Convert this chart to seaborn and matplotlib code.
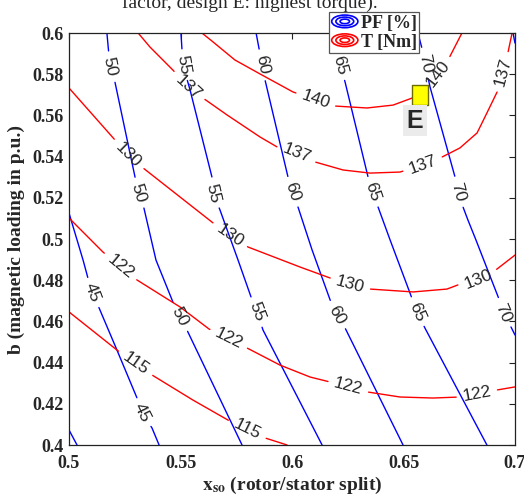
import numpy as np
import matplotlib
matplotlib.use("Agg")
import matplotlib.pyplot as plt
import seaborn as sns
from matplotlib.lines import Line2D
from matplotlib.patches import Ellipse
from matplotlib.legend_handler import HandlerBase

# axis ticks
x_ticks = [0.5, 0.55, 0.6, 0.65, 0.7]
x_tick_labels = ["0.5", "0.55", "0.6", "0.65", "0.7"]
y_ticks = [0.4, 0.42, 0.44, 0.46, 0.48, 0.5, 0.52, 0.54, 0.56, 0.58, 0.6]
y_tick_labels = ["0.4", "0.42", "0.44", "0.46", "0.48", "0.5", "0.52", "0.54", "0.56", "0.58", "0.6"]

# power factor contours [%]  (x = rotor/stator split, y = magnetic loading)
pf40_x = [0.5, 0.5036]
pf40_y = [0.4073, 0.4]
pf40_lab_x, pf40_lab_y = [], []

pf45_x = [0.5, 0.5063, 0.5103, 0.5135, 0.5215, 0.5305, 0.5327, 0.5372, 0.5404]
pf45_y = [0.5126, 0.4898, 0.4738, 0.4665, 0.4461, 0.4228, 0.4155, 0.4083, 0.4]
pf45_lab_x, pf45_lab_y = [0.5103, 0.5327], [0.4738, 0.4155]

pf50_x = [0.517, 0.5184, 0.5206, 0.5296, 0.5309, 0.5336, 0.539, 0.5466, 0.5498, 0.5529, 0.5776]
pf50_y = [0.6, 0.5835, 0.5762, 0.5301, 0.5223, 0.515, 0.4898, 0.4694, 0.4621, 0.4558, 0.4]
pf50_lab_x, pf50_lab_y = [0.5184, 0.5309, 0.5498], [0.5835, 0.5223, 0.4621]

pf55_x = [0.5502, 0.5511, 0.5543, 0.5641, 0.5646, 0.5677, 0.5758, 0.5821, 0.5843, 0.587, 0.6135]
pf55_y = [0.6, 0.5845, 0.5723, 0.5301, 0.5223, 0.5141, 0.4898, 0.4704, 0.4646, 0.4558, 0.4]
pf55_lab_x, pf55_lab_y = [0.5511, 0.5646, 0.5843], [0.5845, 0.5223, 0.4646]

pf60_x = [0.5839, 0.5866, 0.5879, 0.5982, 0.6, 0.6027, 0.609, 0.6179, 0.6202, 0.6238, 0.6498]
pf60_y = [0.6, 0.5845, 0.5772, 0.5301, 0.5228, 0.5155, 0.4947, 0.468, 0.4631, 0.4568, 0.4]
pf60_lab_x, pf60_lab_y = [0.5866, 0.6, 0.6202], [0.5845, 0.5228, 0.4631]

pf65_x = [0.6184, 0.6215, 0.6238, 0.6341, 0.6359, 0.6386, 0.644, 0.6529, 0.656, 0.6596, 0.6874]
pf65_y = [0.6, 0.5845, 0.5762, 0.5301, 0.5228, 0.5155, 0.4995, 0.4738, 0.4646, 0.4568, 0.4]
pf65_lab_x, pf65_lab_y = [0.6215, 0.6359, 0.656], [0.5845, 0.5228, 0.4646]

pf70_x = [0.6565, 0.6587, 0.6596, 0.6619, 0.6731, 0.6744, 0.6767, 0.6789, 0.6825, 0.6928, 0.6946, 0.6982, 0.7]
pf70_y = [0.6, 0.5908, 0.5854, 0.5738, 0.5301, 0.5228, 0.5155, 0.5092, 0.4995, 0.4709, 0.4641, 0.4573, 0.4534]
pf70_lab_x, pf70_lab_y = [0.6596, 0.6744, 0.6946], [0.5854, 0.5228, 0.4641]

pf75_x = [0.6991, 0.7]
pf75_y = [0.6, 0.5951]
pf75_lab_x, pf75_lab_y = [], []

# torque contours [Nm]
t115_x = [0.5, 0.5215, 0.5372, 0.5556, 0.5713, 0.5865, 0.5978]
t115_y = [0.4646, 0.4461, 0.434, 0.4218, 0.4121, 0.4039, 0.4]
t115_lab_x, t115_lab_y = [0.5287, 0.5798], [0.4379, 0.4073]

t122_x = [0.5, 0.5152, 0.5305, 0.5498, 0.5628, 0.5798, 0.5946, 0.6081, 0.617, 0.6341, 0.6484, 0.6632, 0.6753, 0.6919, 0.7]
t122_y = [0.5102, 0.4937, 0.4801, 0.467, 0.4563, 0.4471, 0.4388, 0.433, 0.4306, 0.4257, 0.4233, 0.4228, 0.4233, 0.4267, 0.4282]
t122_lab_x, t122_lab_y = [0.5229, 0.5709, 0.6251, 0.683], [0.4864, 0.45, 0.4277, 0.4243]

t130_x = [0.5, 0.5206, 0.5265, 0.5332, 0.5646, 0.5722, 0.5803, 0.6036, 0.617, 0.626, 0.635, 0.6543, 0.6695, 0.6744, 0.6834, 0.6919, 0.7]
t130_y = [0.5733, 0.5481, 0.5408, 0.5345, 0.5078, 0.5019, 0.4961, 0.4864, 0.4811, 0.4777, 0.4757, 0.4743, 0.4757, 0.4777, 0.4806, 0.4854, 0.4922]
t130_lab_x, t130_lab_y = [0.5265, 0.5722, 0.626, 0.6834], [0.5408, 0.5019, 0.4777, 0.4806]

t137_x = [0.531, 0.5363, 0.5466, 0.5534, 0.5601, 0.5709, 0.5857, 0.5933, 0.6022, 0.6103, 0.6229, 0.635, 0.6484, 0.6587, 0.6673, 0.6753, 0.683, 0.6861, 0.6924, 0.6946, 0.6969, 0.6987]
t137_y = [0.6, 0.5932, 0.582, 0.5738, 0.5684, 0.5602, 0.5495, 0.5447, 0.5417, 0.5374, 0.5335, 0.532, 0.5325, 0.5359, 0.5398, 0.5442, 0.5515, 0.5583, 0.5723, 0.5811, 0.5908, 0.6]
t137_lab_x, t137_lab_y = [0.5534, 0.6022, 0.6587, 0.6946], [0.5738, 0.5417, 0.5359, 0.5811]

t140_x = [0.5596, 0.5641, 0.5744, 0.5857, 0.6004, 0.6184, 0.6336, 0.6453, 0.6538, 0.661, 0.67, 0.6762]
t140_y = [0.6, 0.5961, 0.5869, 0.5801, 0.5714, 0.5646, 0.5636, 0.565, 0.5684, 0.5743, 0.5869, 0.6]
t140_lab_x, t140_lab_y = [0.6103, 0.665], [0.5665, 0.5806]

# design E (highest torque)
design_x = [0.6574]
design_y = [0.5699]
design_name = "E"

pf_levels = [
    ("40", pf40_x, pf40_y, pf40_lab_x, pf40_lab_y),
    ("45", pf45_x, pf45_y, pf45_lab_x, pf45_lab_y),
    ("50", pf50_x, pf50_y, pf50_lab_x, pf50_lab_y),
    ("55", pf55_x, pf55_y, pf55_lab_x, pf55_lab_y),
    ("60", pf60_x, pf60_y, pf60_lab_x, pf60_lab_y),
    ("65", pf65_x, pf65_y, pf65_lab_x, pf65_lab_y),
    ("70", pf70_x, pf70_y, pf70_lab_x, pf70_lab_y),
    ("75", pf75_x, pf75_y, pf75_lab_x, pf75_lab_y),
]
t_levels = [
    ("115", t115_x, t115_y, t115_lab_x, t115_lab_y),
    ("122", t122_x, t122_y, t122_lab_x, t122_lab_y),
    ("130", t130_x, t130_y, t130_lab_x, t130_lab_y),
    ("137", t137_x, t137_y, t137_lab_x, t137_lab_y),
    ("140", t140_x, t140_y, t140_lab_x, t140_lab_y),
]

sns.set_style("white")
plt.rcParams["font.family"] = ["Liberation Serif", "DejaVu Serif"]
plt.rcParams["font.weight"] = "bold"
plt.rcParams["mathtext.fontset"] = "stix"

fig = plt.figure(figsize=(5.24, 4.95), dpi=100)
ax = fig.add_axes([69 / 524, 1 - 445 / 495, 446 / 524, 412 / 495])
ax.set_xlim(0.5, 0.7)
ax.set_ylim(0.4, 0.6)

LABEL_FS = 12.5
digit_px = 0.556 * LABEL_FS * fig.dpi / 72


def point_at(pts, s, dist):
    i = int(np.clip(np.searchsorted(s, dist, side="right") - 1, 0, len(pts) - 2))
    t = (dist - s[i]) / (s[i + 1] - s[i])
    return pts[i] + t * (pts[i + 1] - pts[i])


def draw_level(text, xs, ys, lab_x, lab_y, color):
    pts = ax.transData.transform(np.column_stack([xs, ys]))
    seglen = np.hypot(*np.diff(pts, axis=0).T)
    s = np.concatenate([[0], np.cumsum(seglen)])
    gap = len(text) * digit_px + 13
    inv = ax.transData.inverted()
    cuts = []
    for lx, ly in zip(lab_x, lab_y):
        p = ax.transData.transform((lx, ly))
        best_d, best_s = np.inf, 0.0
        for i in range(len(pts) - 1):
            d = pts[i + 1] - pts[i]
            t = np.clip(np.dot(p - pts[i], d) / np.dot(d, d), 0, 1)
            dd = np.hypot(*(p - (pts[i] + t * d)))
            if dd < best_d:
                best_d, best_s = dd, s[i] + t * seglen[i]
        a = point_at(pts, s, best_s - 6)
        b = point_at(pts, s, best_s + 6)
        ang = np.degrees(np.arctan2(b[1] - a[1], b[0] - a[0]))
        if ang > 90:
            ang -= 180
        elif ang < -90:
            ang += 180
        c = inv.transform(point_at(pts, s, best_s))
        ax.text(c[0], c[1], text, rotation=ang, rotation_mode="anchor",
                ha="center", va="center", fontsize=LABEL_FS,
                family="Liberation Sans", weight="normal", zorder=4)
        cuts.append((best_s - gap / 2, best_s + gap / 2))

    # keep the line everywhere except under its labels
    cuts.sort()
    keep, start = [], 0.0
    for a, b in cuts:
        if a > start:
            keep.append((start, a))
        start = max(start, b)
    if start < s[-1]:
        keep.append((start, s[-1]))
    for a, b in keep:
        inner = [pts[k] for k in range(len(pts)) if a < s[k] < b]
        piece = np.array([point_at(pts, s, a)] + inner + [point_at(pts, s, b)])
        piece = inv.transform(piece)
        sns.lineplot(x=piece[:, 0], y=piece[:, 1], sort=False, estimator=None,
                     color=color, lw=1.0, ax=ax, legend=False)


for text, xs, ys, lx, ly in pf_levels:
    draw_level(text, xs, ys, lx, ly, "#0000ff")
for text, xs, ys, lx, ly in t_levels:
    draw_level(text, xs, ys, lx, ly, "#ff0000")

# design marker (tall yellow square, as drawn by MATLAB)
rect = [(-0.375, -0.5), (0.375, -0.5), (0.375, 0.5), (-0.375, 0.5), (-0.375, -0.5)]
ax.plot(design_x, design_y, linestyle="none", marker=rect, markersize=14.5,
        markerfacecolor="#ffff00", markeredgecolor="#6b6b00", markeredgewidth=1.0, zorder=6)
ax.annotate(design_name, (design_x[0], design_y[0]), xytext=(-3.5, -18.5), textcoords="offset points",
            ha="center", va="center", fontsize=18, family="Liberation Sans", weight="bold",
            bbox=dict(boxstyle="square,pad=0.15", facecolor="#ebebeb", edgecolor="none"), zorder=6)

ax.set_xticks(x_ticks)
ax.set_xticklabels(x_tick_labels)
ax.set_yticks(y_ticks)
ax.set_yticklabels(y_tick_labels)
ax.tick_params(axis="both", direction="in", top=True, right=True, length=4, width=0.8,
               labelsize=13, color="#222222")
ax.tick_params(axis="x", pad=7)
ax.tick_params(axis="y", pad=4)
for sp in ax.spines.values():
    sp.set_color("#222222")
    sp.set_linewidth(0.9)

ax.set_xlabel(r"$\mathbf{x}_{\mathbf{so}}$ (rotor/stator split)", fontsize=14, fontweight="bold", labelpad=2)
ax.set_ylabel("b (magnetic loading in p.u.)", fontsize=14, fontweight="bold", labelpad=5)

fig.text(250 / 524, 1 - 8 / 495, "factor, design E: highest torque).", ha="center", va="baseline",
         fontsize=14, fontweight="normal", family="Liberation Serif")


class HandlerRings(HandlerBase):
    def create_artists(self, legend, orig_handle, xdescent, ydescent, width, height, fontsize, trans):
        cx = width / 2 - xdescent
        cy = height / 2 - ydescent
        col = orig_handle.get_color()
        return [Ellipse((cx, cy), width * f, height * f, fill=False, edgecolor=col, lw=1.2, transform=trans)
                for f in (1.0, 0.68, 0.36)]


handles = [Line2D([], [], color="#0000ff"), Line2D([], [], color="#ff0000")]
leg = fig.legend(handles, ["PF [%]", "T [Nm]"], handler_map={Line2D: HandlerRings()},
                 loc="upper left", bbox_to_anchor=(329 / 524, 1 - 12 / 495),
                 frameon=True, fancybox=False, framealpha=1, edgecolor="#555555",
                 borderpad=0.15, borderaxespad=0, handlelength=1.45, handleheight=0.7,
                 handletextpad=0.15, labelspacing=0.1,
                 prop=dict(family="Liberation Serif", weight="bold", size=13))
leg.get_frame().set_linewidth(0.9)

fig.savefig("out.png", dpi=100)
